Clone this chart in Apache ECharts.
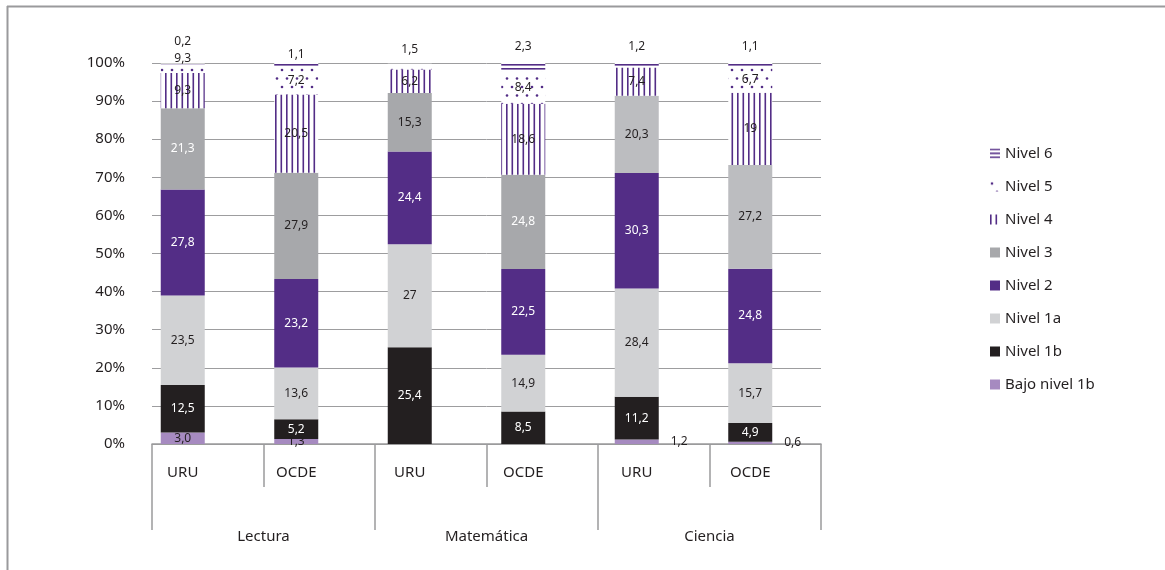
<!DOCTYPE html>
<html>
<head>
<meta charset="utf-8">
<script src="https://cdn.jsdelivr.net/npm/echarts@6/dist/echarts.min.js"></script>
<style>
html,body{margin:0;padding:0;background:#fff;}
#chart{width:1165px;height:570px;}
</style>
</head>
<body>
<div id="chart"></div>
<script>
// ---------- data ----------
const categories = ['URU', 'OCDE', 'URU', 'OCDE', 'URU', 'OCDE'];
const groups = ['Lectura', 'Matemática', 'Ciencia'];
const seriesNames = ['Bajo nivel 1b', 'Nivel 1b', 'Nivel 1a', 'Nivel 2', 'Nivel 3', 'Nivel 4', 'Nivel 5', 'Nivel 6'];
const bajo1b = [3.0, 1.3, 0, 0, 1.2, 0.6];
const nivel1b = [12.5, 5.2, 25.4, 8.5, 11.2, 4.9];
const nivel1a = [23.5, 13.6, 27, 14.9, 28.4, 15.7];
const nivel2 = [27.8, 23.2, 24.4, 22.5, 30.3, 24.8];
const nivel3 = [21.3, 27.9, 15.3, 24.8, 20.3, 27.2];
const nivel4 = [9.3, 20.5, 6.2, 18.6, 7.4, 19];
const nivel5 = [2.3, 7.2, 1.5, 8.4, 0, 6.7];
const nivel6 = [0.2, 1.1, 0, 2.3, 1.2, 1.1];
// label text as printed in the original where it differs from the value
const nivel5Text = ['9,3', null, null, null, null, null];

// ---------- styles ----------
const FONT = '"Noto Sans", "Open Sans", sans-serif';
const PURPLE = '#532d86';
const TXT = '#231f20';

function pattern(w, h, draw) {
  const c = document.createElement('canvas');
  c.width = w; c.height = h;
  const g = c.getContext('2d');
  g.fillStyle = '#ffffff';
  g.fillRect(0, 0, w, h);
  g.fillStyle = PURPLE;
  draw(g);
  return { image: c, repeat: 'repeat' };
}
const stripesV = pattern(11, 4, g => { g.fillRect(0, 0, 1.6, 4); g.fillRect(5.5, 0, 1.6, 4); });
const dots = pattern(10, 17, g => {
  g.beginPath(); g.arc(2, 2, 1.3, 0, Math.PI * 2); g.fill();
  g.beginPath(); g.arc(7, 10.5, 1.3, 0, Math.PI * 2); g.fill();
});
const stripesH = pattern(4, 4, g => { g.fillRect(0, 0, 4, 1.6); });

const colors = {
  'Bajo nivel 1b': '#a68ac0',
  'Nivel 1b': '#231f20',
  'Nivel 1a': '#d1d2d4',
  'Nivel 2': '#532d86',
  'Nivel 3': '#a7a8ab',
  'Nivel 4': stripesV,
  'Nivel 5': dots,
  'Nivel 6': stripesH
};

function fmt(v, fixed) {
  if (!v) return '';
  return (fixed ? v.toFixed(1) : String(v)).replace('.', ',');
}

function buildData(values, opts) {
  return values.map((v, i) => {
    const item = { value: v };
    if (opts && opts[i]) Object.assign(item, opts[i]);
    return item;
  });
}

const labelBase = { show: true, fontFamily: FONT, fontSize: 12, color: TXT };

const seriesDefs = [
  { name: 'Bajo nivel 1b', values: bajo1b, fixed: true,
    label: { position: 'inside', offset: [0, 3] },
    items: { 4: { label: { position: 'right', distance: 12, offset: [0, 0] } },
             5: { label: { position: 'right', distance: 12, offset: [0, 0] } } } },
  { name: 'Nivel 1b', values: nivel1b, label: { position: 'inside', color: '#ffffff' } },
  { name: 'Nivel 1a', values: nivel1a, label: { position: 'inside' } },
  { name: 'Nivel 2', values: nivel2, label: { position: 'inside', color: '#ffffff' } },
  { name: 'Nivel 3', values: nivel3, label: { position: 'inside' },
    items: { 0: { label: { color: '#ffffff' } }, 3: { label: { color: '#ffffff' } },
             4: { itemStyle: { color: '#bcbdc0' } }, 5: { itemStyle: { color: '#bcbdc0' } } } },
  { name: 'Nivel 4', values: nivel4, label: { position: 'inside' } },
  { name: 'Nivel 5', values: nivel5, text: nivel5Text, label: { position: 'inside' },
    items: { 0: { label: { position: 'top', distance: 0 } },
             2: { label: { position: 'top', distance: 8 } } } },
  { name: 'Nivel 6', values: nivel6, label: { position: 'top', distance: 10 },
    items: { 0: { label: { distance: 16 } }, 1: { label: { distance: 2 } } } }
];

const series = seriesDefs.map(d => ({
  name: d.name,
  type: 'bar',
  stack: 'total',
  xAxisIndex: 2,
  yAxisIndex: 1,
  barWidth: 44,
  itemStyle: { color: colors[d.name] },
  label: Object.assign({}, labelBase, d.label, {
    formatter: p => (d.text && d.text[p.dataIndex]) ? d.text[p.dataIndex] : fmt(p.value, d.fixed)
  }),
  labelLayout: { hideOverlap: false },
  emphasis: { disabled: true },
  data: buildData(d.values, d.items)
}));

const chart = echarts.init(document.getElementById('chart'), null, { renderer: 'canvas' });
chart.setOption({
  animation: false,
  backgroundColor: '#ffffff',
  textStyle: { fontFamily: FONT },
  grid: [
    { left: 152, right: 344, top: 63, bottom: 126 },
    { left: 126, right: 358, top: 63, bottom: 126 }
  ],
  xAxis: [
    { type: 'category', gridIndex: 0, data: categories, position: 'bottom',
      axisLine: { show: true, lineStyle: { color: '#9a9a9c', width: 1.5 } },
      axisTick: { show: true, length: 43, interval: 0, lineStyle: { color: '#9a9a9c', width: 1.5 } },
      axisLabel: { show: false }, splitLine: { show: false } },
    { type: 'category', gridIndex: 0, data: groups, position: 'bottom',
      axisLine: { show: false },
      axisTick: { show: true, length: 86, interval: 0, lineStyle: { color: '#9a9a9c', width: 1.5 } },
      axisLabel: { show: true, margin: 85, fontSize: 15, color: TXT, fontFamily: FONT },
      splitLine: { show: false } },
    { type: 'category', gridIndex: 1, data: categories, position: 'bottom',
      axisLine: { show: false }, axisTick: { show: false },
      axisLabel: { show: true, interval: 0, margin: 21, fontSize: 15, color: TXT, fontFamily: FONT },
      splitLine: { show: false } }
  ],
  yAxis: [
    { type: 'value', gridIndex: 0, min: 0, max: 100, interval: 10,
      axisLine: { show: false }, axisTick: { show: false },
      axisLabel: { formatter: '{value}%', margin: 27, fontSize: 15, color: TXT, fontFamily: FONT },
      splitLine: { show: true, lineStyle: { color: '#9d9d9f', width: 1 } } },
    { type: 'value', gridIndex: 1, min: 0, max: 100, interval: 10, show: false,
      splitLine: { show: false } }
  ],
  legend: {
    orient: 'vertical',
    left: 985,
    top: 141,
    itemWidth: 10,
    itemHeight: 10,
    itemGap: 18,
    icon: 'rect',
    data: ['Nivel 6', 'Nivel 5', 'Nivel 4', 'Nivel 3', 'Nivel 2', 'Nivel 1a', 'Nivel 1b', 'Bajo nivel 1b'],
    textStyle: { fontSize: 15, color: TXT, fontFamily: FONT },
    selectedMode: false
  },
  graphic: [
    { type: 'line', silent: true, shape: { x1: 7, y1: 6.5, x2: 1165, y2: 6.5 },
      style: { stroke: '#9a9a9c', lineWidth: 2 } },
    { type: 'line', silent: true, shape: { x1: 7.5, y1: 6, x2: 7.5, y2: 570 },
      style: { stroke: '#9a9a9c', lineWidth: 2 } }
  ],
  series: series
});
</script>
</body>
</html>
